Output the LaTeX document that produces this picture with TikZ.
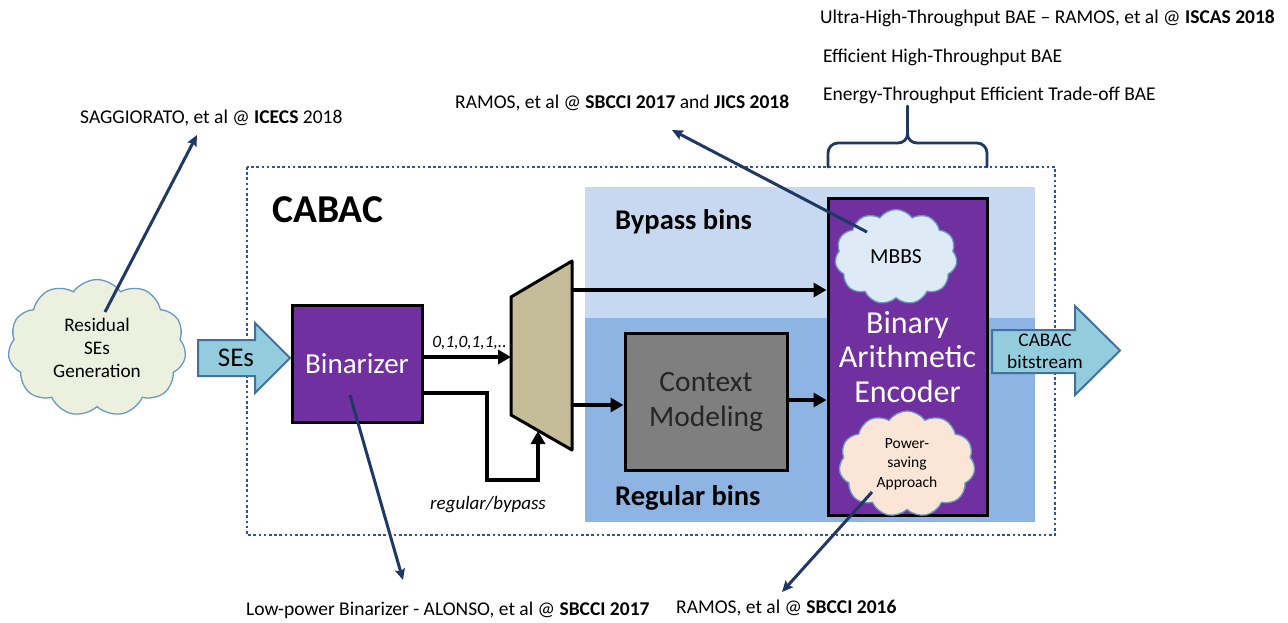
\documentclass[tikz,border=0pt]{standalone}
\usepackage{fontspec}
\setmainfont{Carlito}
\usetikzlibrary{shapes.symbols,arrows.meta,calc}
\definecolor{enc}{HTML}{7030A0}
\definecolor{ctxgray}{HTML}{7F7F7F}
\definecolor{muxfill}{HTML}{C4BD97}
\definecolor{bypassbg}{HTML}{C6D9F1}
\definecolor{regularbg}{HTML}{8DB4E2}
\definecolor{flowfill}{HTML}{93CDDD}
\definecolor{flowline}{HTML}{41719C}
\definecolor{cloudline}{HTML}{6A98C3}
\definecolor{greencloud}{HTML}{EBF1DE}
\definecolor{bluecloud}{HTML}{DEEBF7}
\definecolor{peachcloud}{HTML}{FBE5D6}
\definecolor{navy}{HTML}{203864}
\definecolor{frame}{HTML}{2F5597}
% font size with explicit line spacing (both in pt)
\newcommand{\fs}[2]{\fontsize{#1}{#2}\selectfont}
\tikzset{
  block/.style={draw=black, line width=3pt, inner sep=0pt, align=center},
  puff/.style={cloud, cloud puffs=11, cloud puff arc=110, draw=cloudline, line width=1.3pt, align=center, inner sep=0pt},
  flow/.style={draw=flowline, fill=flowfill, line width=2pt, line join=miter},
  wire/.style={draw=black, line width=4pt, -{Triangle[length=13pt,width=14pt]}},
  cite/.style={draw=navy, line width=3pt, -{Stealth[length=11pt,width=10pt,inset=2pt]}},
  note/.style={anchor=west, inner sep=0pt, font=\fs{19.5}{23}},
  region/.style={fill=#1, draw=none},
}
\begin{document}
\begin{tikzpicture}[x=1pt,y=-1pt]
\useasboundingbox (0,0) rectangle (1288,622);

% bin-class backgrounds
\fill[region=bypassbg] (585,187) rectangle (1035,318);
\fill[region=regularbg] (585,318) rectangle (1035,522);

% outer CABAC frame
\draw[frame, line width=2.6pt, dash pattern=on 2.6pt off 2.6pt] (247,167) rectangle (1055,535);
\node[anchor=west, inner sep=0pt, font=\fs{39.5}{46}\bfseries] (cabac) at (272,210) {CABAC};
\node[anchor=west, inner sep=0pt, font=\fs{28.5}{34}\bfseries] (bypass) at (615,222) {Bypass bins};
\node[anchor=west, inner sep=0pt, font=\fs{28.5}{34}\bfseries] (regular) at (615,498) {Regular bins};

% main blocks
\node[block, fill=enc, text=white, minimum width=130pt, minimum height=117pt, font=\fs{29}{34}] (bin) at (357,363.5) {Binarizer};
\node[block, fill=ctxgray, text=black!85, minimum width=162pt, minimum height=137pt, font=\fs{29.5}{35}] (ctx) at (706,401.5) {Context\\Modeling};
\node[block, fill=enc, minimum width=159pt, minimum height=317pt] (bae) at (907.5,356.5) {};
\node[text=white, align=center, font=\fs{32}{34.5}, inner sep=0pt] (baetxt) at (907.5,357) {Binary\\Arithmetic\\Encoder};

% multiplexer
\coordinate (m1) at (511,297);
\coordinate (m2) at (572,261);
\coordinate (m3) at (572,450);
\coordinate (m4) at (511,415);
\draw[fill=muxfill, line width=3pt, line join=round] (m1) -- (m2) -- (m3) -- (m4) -- cycle;

% clouds
\node[puff, fill=greencloud, minimum width=178pt, minimum height=122pt, font=\fs{19.2}{23}] (res) at (97,348) {Residual\\SEs\\Generation};
\node[puff, fill=bluecloud, minimum width=122pt, minimum height=95pt, font=\fs{21.5}{25}] (mbbs) at (896,257) {MBBS};
\node[puff, fill=peachcloud, minimum width=136pt, minimum height=106pt, font=\fs{15.5}{19.5}] (pwr) at (907,464) {Power-\\saving\\Approach};

% block arrows
\draw[flow] (198,340) -- (255,340) -- (255,323) -- (290,358) -- (255,393) -- (255,376) -- (198,376) -- cycle;
\node[font=\fs{27}{32}, inner sep=0pt] (ses) at (236,358) {SEs};
\draw[flow] (992,330) -- (1075,330) -- (1075,306) -- (1120,350.5) -- (1075,395) -- (1075,373) -- (992,373) -- cycle;
\node[font=\fs{19.3}{22}, align=center, inner sep=0pt] (out) at (1045,351) {CABAC\\bitstream};

% data path
\coordinate (b1) at (bin.east |- 0,357);
\coordinate (b2) at (bin.east |- 0,393);
\coordinate (mx) at (511,357);
\coordinate (sel) at (538,431);
\draw[wire] (b1) -- (mx);
\node[font=\fs{17.3}{20}\itshape, inner sep=0pt] (seq) at (469.5,343) {0,1,0,1,1,..};
\draw[wire, line join=miter] (b2) -- (487,393) -- (487,480) -- (538,480) -- (sel);
\node[font=\fs{19}{23}\itshape, inner sep=0pt] (rb) at (488,505) {regular/bypass};
\draw[wire] (572,290) -- (bae.west |- 0,290);
\draw[wire] (572,405) -- (ctx.west |- 0,405);
\draw[wire] (ctx.east |- 0,400) -- (bae.west |- 0,400);

% references
\node[note] (r1) at (80,118) {SAGGIORATO, et al @ \textbf{ICECS} 2018};
\coordinate (r1s) at (105,312);
\coordinate (r1t) at (197,135);
\draw[cite] (r1s) -- (r1t);

\node[note] (r2) at (455,103) {RAMOS, et al @ \textbf{SBCCI 2017} and \textbf{JICS 2018}};
\coordinate (r2s) at (867,232);
\coordinate (r2t) at (672,130);
\draw[cite] (r2s) -- (r2t);

\node[note] (r3) at (246,610) {Low-power Binarizer - ALONSO, et al @ \textbf{SBCCI 2017}};
\coordinate (r3s) at (350,395);
\coordinate (r3t) at (403,580);
\draw[cite] (r3s) -- (r3t);

\node[note] (r4) at (676,608) {RAMOS, et al @ \textbf{SBCCI 2016}};
\coordinate (r4s) at (872,492);
\coordinate (r4t) at (782,592);
\draw[cite] (r4s) -- (r4t);

\node[note] (u1) at (820,18) {Ultra-High-Throughput BAE -- RAMOS, et al @ \textbf{ISCAS 2018}};
\node[note] (u2) at (823,57) {Efficient High-Throughput BAE};
\node[note] (u3) at (823,95) {Energy-Throughput Efficient Trade-off BAE};

% brace grouping the BAE works
\draw[navy, line width=2.8pt, line cap=round]
  (828,167) -- (828,153) to[out=90,in=180] (838,143) -- (898,143) to[out=0,in=-90] (907.5,134) -- (907.5,106)
  (907.5,134) to[out=-90,in=180] (917,143) -- (977,143) to[out=0,in=90] (987,153) -- (987,167);
\end{tikzpicture}
\end{document}
